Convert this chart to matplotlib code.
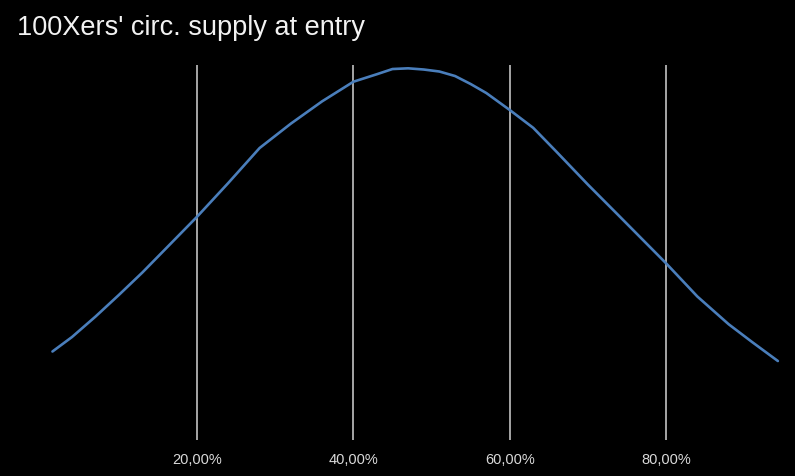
import matplotlib
matplotlib.use("Agg")
import matplotlib.pyplot as plt
from matplotlib.ticker import FuncFormatter, FixedLocator

# circulating supply at entry (fraction) and relative frequency (arbitrary units)
supply_at_entry = [0.015, 0.04, 0.07, 0.10, 0.13, 0.16, 0.20, 0.24, 0.28, 0.32,
                   0.36, 0.40, 0.43, 0.45, 0.47, 0.49, 0.51, 0.53, 0.55, 0.57,
                   0.60, 0.63, 0.66, 0.70, 0.74, 0.80, 0.84, 0.88, 0.91, 0.943]
frequency = [8.85, 10.3, 12.34, 14.51, 16.75, 19.14, 22.33, 25.71, 29.2, 31.64,
             33.87, 35.83, 36.58, 37.1, 37.17, 37.05, 36.85, 36.4, 35.6, 34.7,
             33.0, 31.22, 28.81, 25.54, 22.4, 17.67, 14.35, 11.58, 9.8, 7.9]
tick_values = [0.2, 0.4, 0.6, 0.8]
title = "100Xers' circ. supply at entry"

plt.rcParams['font.family'] = ['Liberation Sans', 'DejaVu Sans']

fig = plt.figure(figsize=(7.95, 4.76), dpi=100, facecolor='black')
ax = fig.add_axes([0.0, 0.0756, 1.0, 0.7878], facecolor='black')

ax.plot(supply_at_entry, frequency, color='#4a7ebb', linewidth=1.9,
        solid_joinstyle='round', solid_capstyle='round')

ax.set_xlim(-0.0521, 0.9649)
ax.set_ylim(0, 37.5)

ax.xaxis.set_major_locator(FixedLocator(tick_values))
ax.xaxis.set_major_formatter(FuncFormatter(lambda v, p: f"{v*100:.2f}%".replace('.', ',')))
ax.grid(axis='x', color='#a6a6a6', linewidth=1.4)
ax.set_axisbelow(True)
ax.tick_params(axis='x', length=0, pad=9, labelsize=10.5, labelcolor='#d9d9d9')
ax.set_yticks([])
for s in ax.spines.values():
    s.set_visible(False)

fig.text(0.022, 0.9265, title, color='#f2f2f2', fontsize=19.5, ha='left', va='baseline')

fig.savefig('out.png', dpi=100, facecolor='black')
